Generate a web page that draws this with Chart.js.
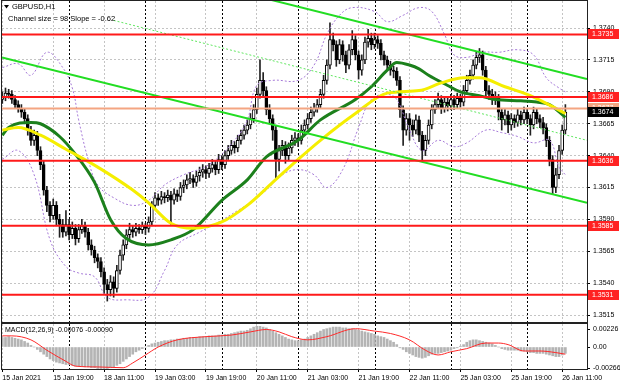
<!DOCTYPE html>
<html>
<head>
<meta charset="utf-8">
<script src="https://cdn.jsdelivr.net/npm/chart.js@4.4.0/dist/chart.umd.min.js"></script>
<style>
  body { margin: 0; background: #fff; }
  #wrap { position: relative; width: 620px; height: 388px; overflow: hidden; }
  canvas { position: absolute; left: 0; }
  #main { top: 0; }
  #macd { top: 323px; }
</style>
</head>
<body>
<div id="wrap">
  <canvas id="main" width="620" height="323"></canvas>
  <canvas id="macd" width="620" height="65"></canvas>
</div>
<script>
// ---- data (GBPUSD H1, one entry per bar, bar 0 = 15 Jan 03:00) ----
const opens = [
  1.3684,1.3686,1.3689,1.3688,1.3684,1.3680,1.3677,1.3674,1.3669,1.3660,
  1.3652,1.3656,1.3644,1.3633,1.3613,1.3601,1.3593,1.3601,1.3590,1.3586,
  1.3580,1.3586,1.3578,1.3583,1.3575,1.3582,1.3585,1.3580,1.3570,1.3566,
  1.3560,1.3557,1.3549,1.3539,1.3535,1.3541,1.3536,1.3550,1.3562,1.3570,
  1.3578,1.3582,1.3580,1.3583,1.3582,1.3585,1.3583,1.3588,1.3601,1.3607,
  1.3605,1.3608,1.3607,1.3609,1.3605,1.3610,1.3608,1.3615,1.3617,1.3621,
  1.3622,1.3619,1.3624,1.3627,1.3629,1.3626,1.3630,1.3633,1.3629,1.3637,
  1.3633,1.3640,1.3644,1.3648,1.3646,1.3652,1.3656,1.3660,1.3664,1.3669,
  1.3676,1.3688,1.3699,1.3691,1.3676,1.3669,1.3660,1.3637,1.3644,1.3648,
  1.3640,1.3646,1.3652,1.3654,1.3652,1.3660,1.3664,1.3669,1.3674,1.3677,
  1.3680,1.3688,1.3699,1.3711,1.3731,1.3727,1.3715,1.3727,1.3719,1.3711,
  1.3723,1.3731,1.3719,1.3707,1.3715,1.3729,1.3732,1.3727,1.3731,1.3728,
  1.3719,1.3715,1.3711,1.3707,1.3706,1.3699,1.3676,1.3660,1.3669,1.3664,
  1.3660,1.3668,1.3656,1.3644,1.3652,1.3664,1.3676,1.3680,1.3684,1.3677,
  1.3682,1.3679,1.3684,1.3680,1.3685,1.3682,1.3691,1.3699,1.3703,1.3711,
  1.3717,1.3719,1.3707,1.3691,1.3688,1.3684,1.3685,1.3674,1.3668,1.3672,
  1.3664,1.3669,1.3666,1.3672,1.3668,1.3674,1.3669,1.3664,1.3674,1.3669,
  1.3666,1.3662,1.3652,1.3637,1.3615,1.3625,1.3644,1.3660
];
const highs = [
  1.3690,1.3693,1.3692,1.3691,1.3687,1.3683,1.3680,1.3677,1.3672,1.3663,
  1.3660,1.3659,1.3647,1.3636,1.3616,1.3604,1.3606,1.3604,1.3594,1.3590,
  1.3597,1.3590,1.3588,1.3586,1.3586,1.3590,1.3588,1.3583,1.3574,1.3569,
  1.3563,1.3560,1.3552,1.3543,1.3546,1.3545,1.3554,1.3566,1.3574,1.3582,
  1.3587,1.3585,1.3587,1.3586,1.3588,1.3587,1.3592,1.3604,1.3611,1.3610,
  1.3612,1.3611,1.3613,1.3612,1.3614,1.3613,1.3619,1.3621,1.3625,1.3627,
  1.3625,1.3628,1.3631,1.3633,1.3632,1.3634,1.3637,1.3636,1.3641,1.3640,
  1.3644,1.3648,1.3652,1.3651,1.3656,1.3660,1.3664,1.3668,1.3673,1.3680,
  1.3693,1.3715,1.3705,1.3694,1.3680,1.3672,1.3663,1.3648,1.3652,1.3651,
  1.3650,1.3656,1.3658,1.3657,1.3664,1.3668,1.3673,1.3678,1.3681,1.3684,
  1.3692,1.3703,1.3715,1.3744,1.3736,1.3730,1.3731,1.3730,1.3722,1.3727,
  1.3738,1.3734,1.3722,1.3719,1.3733,1.3739,1.3736,1.3736,1.3734,1.3731,
  1.3722,1.3718,1.3714,1.3710,1.3709,1.3702,1.3679,1.3673,1.3673,1.3668,
  1.3672,1.3671,1.3659,1.3656,1.3668,1.3680,1.3684,1.3689,1.3687,1.3686,
  1.3685,1.3688,1.3687,1.3689,1.3688,1.3695,1.3703,1.3707,1.3715,1.3721,
  1.3724,1.3722,1.3710,1.3695,1.3692,1.3690,1.3688,1.3677,1.3676,1.3675,
  1.3673,1.3672,1.3677,1.3675,1.3678,1.3677,1.3672,1.3678,1.3677,1.3672,
  1.3670,1.3665,1.3655,1.3640,1.3630,1.3648,1.3664,1.3680
];
const lows = [
  1.3681,1.3683,1.3685,1.3681,1.3677,1.3674,1.3670,1.3665,1.3656,1.3648,
  1.3648,1.3640,1.3629,1.3609,1.3596,1.3588,1.3590,1.3585,1.3576,1.3576,
  1.3577,1.3574,1.3575,1.3570,1.3572,1.3579,1.3576,1.3566,1.3562,1.3556,
  1.3552,1.3545,1.3532,1.3526,1.3530,1.3529,1.3533,1.3547,1.3558,1.3567,
  1.3575,1.3576,1.3577,1.3579,1.3579,1.3578,1.3580,1.3585,1.3598,1.3601,
  1.3602,1.3603,1.3604,1.3586,1.3602,1.3604,1.3605,1.3611,1.3614,1.3618,
  1.3615,1.3616,1.3620,1.3623,1.3622,1.3623,1.3627,1.3625,1.3626,1.3629,
  1.3630,1.3637,1.3641,1.3642,1.3643,1.3649,1.3653,1.3657,1.3661,1.3666,
  1.3673,1.3685,1.3687,1.3672,1.3665,1.3652,1.3622,1.3628,1.3640,1.3634,
  1.3636,1.3642,1.3648,1.3647,1.3649,1.3657,1.3661,1.3666,1.3671,1.3674,
  1.3677,1.3685,1.3696,1.3708,1.3722,1.3710,1.3712,1.3714,1.3705,1.3708,
  1.3719,1.3715,1.3700,1.3703,1.3712,1.3725,1.3723,1.3724,1.3724,1.3715,
  1.3711,1.3707,1.3703,1.3701,1.3695,1.3670,1.3648,1.3656,1.3652,1.3655,
  1.3657,1.3651,1.3636,1.3640,1.3649,1.3661,1.3673,1.3677,1.3673,1.3674,
  1.3675,1.3676,1.3676,1.3677,1.3678,1.3679,1.3688,1.3696,1.3700,1.3708,
  1.3713,1.3703,1.3687,1.3684,1.3680,1.3680,1.3668,1.3660,1.3664,1.3658,
  1.3660,1.3662,1.3663,1.3664,1.3665,1.3665,1.3656,1.3661,1.3665,1.3662,
  1.3657,1.3647,1.3632,1.3610,1.3611,1.3622,1.3641,1.3657
];
const closes = [
  1.3686,1.3689,1.3688,1.3684,1.3680,1.3677,1.3674,1.3669,1.3660,1.3652,
  1.3656,1.3644,1.3633,1.3613,1.3601,1.3593,1.3601,1.3590,1.3586,1.3580,
  1.3586,1.3578,1.3583,1.3575,1.3582,1.3585,1.3580,1.3570,1.3566,1.3560,
  1.3557,1.3549,1.3539,1.3535,1.3541,1.3536,1.3550,1.3562,1.3570,1.3578,
  1.3582,1.3580,1.3583,1.3582,1.3585,1.3583,1.3588,1.3601,1.3607,1.3605,
  1.3608,1.3607,1.3609,1.3605,1.3610,1.3608,1.3615,1.3617,1.3621,1.3622,
  1.3619,1.3624,1.3627,1.3629,1.3626,1.3630,1.3633,1.3629,1.3637,1.3633,
  1.3640,1.3644,1.3648,1.3646,1.3652,1.3656,1.3660,1.3664,1.3669,1.3676,
  1.3688,1.3699,1.3691,1.3676,1.3669,1.3660,1.3637,1.3644,1.3648,1.3640,
  1.3646,1.3652,1.3654,1.3652,1.3660,1.3664,1.3669,1.3674,1.3677,1.3680,
  1.3688,1.3699,1.3711,1.3731,1.3727,1.3715,1.3727,1.3719,1.3711,1.3723,
  1.3731,1.3719,1.3707,1.3715,1.3729,1.3732,1.3727,1.3731,1.3728,1.3719,
  1.3715,1.3711,1.3707,1.3706,1.3699,1.3676,1.3660,1.3669,1.3664,1.3660,
  1.3668,1.3656,1.3644,1.3652,1.3664,1.3676,1.3680,1.3684,1.3677,1.3682,
  1.3679,1.3684,1.3680,1.3685,1.3682,1.3691,1.3699,1.3703,1.3711,1.3717,
  1.3719,1.3707,1.3691,1.3688,1.3684,1.3685,1.3674,1.3668,1.3672,1.3664,
  1.3669,1.3666,1.3672,1.3668,1.3674,1.3669,1.3664,1.3674,1.3669,1.3666,
  1.3662,1.3652,1.3637,1.3615,1.3625,1.3644,1.3660,1.3674
];

// moving averages, read at a few bars along each curve
const fastBars   = [0, 2, 9, 12, 18, 23, 29, 34, 39, 46, 53, 60, 69, 77, 83, 93, 100, 111, 116, 121, 124, 128, 131, 134, 140, 144, 150, 155, 163, 168, 172, 177];
const fastValues = [1.3656,1.3662,1.3666,1.3665,1.3655,1.3641,1.3619,1.3590,1.3575,1.3570,1.3574,1.3582,1.3605,1.3621,1.3639,1.3652,1.3668,1.3684,1.3694,1.3707,1.3713,1.3711,1.3708,1.3703,1.3695,1.3690,1.3687,1.3684,1.3683,1.3682,1.3680,1.3670];
const slowBars   = [0, 5, 12, 20, 30, 41, 46, 53, 60, 69, 77, 85, 93, 100, 111, 121, 131, 138, 145, 150, 158, 165, 171, 177];
const slowValues = [1.3660,1.3662,1.3656,1.3645,1.3631,1.3613,1.3603,1.3587,1.3583,1.3588,1.3601,1.3619,1.3637,1.3652,1.3673,1.3689,1.3691,1.3697,1.3701,1.3701,1.3694,1.3688,1.3681,1.3673];

// envelope bands (purple dotted)
const upperBars   = [0, 5, 9, 14, 19, 22, 24, 27, 30, 35, 41, 46, 51, 57, 65, 73, 77, 80, 85, 93, 98, 102, 106, 110, 117, 121, 126, 131, 135, 139, 142, 146, 151, 156, 162, 167, 171, 175, 177];
const upperValues = [1.3709,1.3712,1.3703,1.3721,1.3709,1.3693,1.3668,1.3637,1.3617,1.3607,1.3601,1.3605,1.3617,1.3625,1.3633,1.3652,1.3668,1.3695,1.3699,1.3699,1.3711,1.3735,1.3750,1.3756,1.3753,1.3745,1.3750,1.3756,1.3753,1.3735,1.3719,1.3717,1.3721,1.3721,1.3723,1.3719,1.3701,1.3693,1.3690];
const lowerBars   = [0, 5, 10, 15, 20, 24, 29, 33, 39, 46, 51, 55, 62, 68, 74, 79, 83, 88, 93, 98, 102, 107, 112, 116, 121, 124, 128, 132, 137, 142, 146, 152, 157, 162, 167, 172, 175, 177];
const lowerValues = [1.3637,1.3644,1.3625,1.3574,1.3553,1.3548,1.3545,1.3529,1.3527,1.3529,1.3550,1.3570,1.3580,1.3588,1.3597,1.3605,1.3613,1.3625,1.3629,1.3625,1.3615,1.3629,1.3662,1.3684,1.3688,1.3684,1.3660,1.3644,1.3652,1.3647,1.3650,1.3660,1.3658,1.3655,1.3650,1.3652,1.3631,1.3625];

// regression channel (bar, price at both ends)
const channelUpper = [[35, 1.3793], [183.8, 1.3700]];
const channelMid   = [[35, 1.3746], [183.8, 1.3652]];
const channelLower = [[-0.1, 1.3717], [183.8, 1.3603]];

// horizontal levels
const levels = [1.3735, 1.3686, 1.3636, 1.3585, 1.3531];
const bidLine = 1.3677;
const bidPrice = 1.3674;

// MACD(12,26,9)
const macdMain = [
  0.0012,0.0012,0.0013,0.0012,0.0011,0.0010,0.0009,0.0007,0.0005,0.0002,
  0.0000,-0.0003,-0.0006,-0.0009,-0.0012,-0.0015,-0.0017,-0.0019,-0.0020,-0.0021,
  -0.0022,-0.0022,-0.0023,-0.0024,-0.0024,-0.0024,-0.0025,-0.0025,-0.0026,-0.0026,
  -0.0027,-0.0027,-0.0027,-0.0027,-0.0026,-0.0025,-0.0023,-0.0021,-0.0018,-0.0015,
  -0.0012,-0.0009,-0.0006,-0.0004,-0.0002,0.0000,0.0002,0.0004,0.0005,0.0006,
  0.0007,0.0008,0.0008,0.0009,0.0009,0.0010,0.0010,0.0011,0.0011,0.0012,
  0.0012,0.0012,0.0013,0.0013,0.0013,0.0014,0.0014,0.0014,0.0015,0.0015,
  0.0016,0.0016,0.0017,0.0018,0.0019,0.0020,0.0020,0.0021,0.0023,0.0025,
  0.0026,0.0026,0.0025,0.0024,0.0022,0.0020,0.0018,0.0016,0.0014,0.0012,
  0.0010,0.0009,0.0008,0.0008,0.0009,0.0010,0.0012,0.0014,0.0016,0.0018,
  0.0020,0.0022,0.0023,0.0024,0.0025,0.0025,0.0025,0.0024,0.0024,0.0023,
  0.0023,0.0022,0.0021,0.0020,0.0019,0.0018,0.0017,0.0016,0.0014,0.0013,
  0.0012,0.0010,0.0008,0.0006,0.0003,-0.0001,-0.0003,-0.0006,-0.0008,-0.0010,
  -0.0012,-0.0013,-0.0014,-0.0013,-0.0011,-0.0009,-0.0008,-0.0008,-0.0007,-0.0006,
  -0.0005,-0.0004,-0.0002,-0.0001,0.0001,0.0003,0.0006,0.0008,0.0009,0.0009,
  0.0008,0.0007,0.0006,0.0005,0.0004,0.0002,0.0000,-0.0002,-0.0003,-0.0004,
  -0.0004,-0.0004,-0.0004,-0.0005,-0.0005,-0.0006,-0.0007,-0.0007,-0.0008,-0.0008,
  -0.0008,-0.0009,-0.0010,-0.0011,-0.0012,-0.0012,-0.0010,-0.0008
];
const signalBars   = [0, 3, 9, 14, 20, 23, 30, 38, 41, 45, 49, 55, 64, 72, 78, 83, 87, 91, 96, 102, 111, 117, 122, 128, 133, 137, 141, 146, 152, 156, 159, 164, 169, 174, 177];
const signalValues = [0.0014,0.0014,0.0009,-0.0004,-0.0018,-0.0024,-0.0025,-0.0026,-0.0020,-0.0010,0.0000,0.0009,0.0013,0.0015,0.0019,0.0022,0.0019,0.0013,0.0009,0.0013,0.0023,0.0020,0.0017,0.0009,-0.0004,-0.0010,-0.0006,-0.0002,0.0005,0.0005,0.0003,-0.0005,-0.0005,-0.0007,-0.0009];

// axes
const priceTicks = [1.3740, 1.3715, 1.3690, 1.3665, 1.3640, 1.3615, 1.3590, 1.3565, 1.3540, 1.3515];
const macdTicks = [0.00226, 0, -0.00266];
const timeLabels = ['15 Jan 2021','15 Jan 19:00','18 Jan 11:00','19 Jan 03:00','19 Jan 19:00','20 Jan 11:00',
                    '21 Jan 03:00','21 Jan 19:00','22 Jan 11:00','25 Jan 03:00','25 Jan 19:00','26 Jan 11:00'];
const labelBars = [0, 16, 32, 48, 64, 80, 96, 112, 128, 144, 160, 176];
const daySeparators = [21, 45, 69, 93, 117, 141, 165];

const X_MIN = -0.1, X_MAX = 183.8;
const FONT = "'Liberation Sans', Arial, sans-serif";

Chart.defaults.font.family = FONT;
Chart.defaults.font.size = 7;
Chart.defaults.color = '#000';

function pts(bars, vals) { return bars.map((b, i) => ({x: b, y: vals[i]})); }
function seg(p) { return p.map(q => ({x: q[0], y: q[1]})); }
function hline(v) { return [{x: X_MIN, y: v}, {x: X_MAX, y: v}]; }

// dotted day separators + frame round the pane
const panePlugin = {
  id: 'pane',
  beforeDatasetsDraw(chart) {
    const {ctx, chartArea: a, scales: {x}} = chart;
    ctx.save();
    ctx.strokeStyle = '#000';
    ctx.lineWidth = 1;
    ctx.setLineDash([2, 2]);
    daySeparators.forEach(b => {
      const px = Math.round(x.getPixelForValue(b)) + 0.5;
      ctx.beginPath();
      ctx.moveTo(px, a.top);
      ctx.lineTo(px, a.bottom);
      ctx.stroke();
    });
    ctx.restore();
  },
  afterDraw(chart) {
    const {ctx, chartArea: a} = chart;
    ctx.save();
    ctx.strokeStyle = '#222';
    ctx.lineWidth = 1;
    ctx.strokeRect(a.left - 0.5, a.top - 0.5, a.right - a.left + 1, a.bottom - a.top + 1);
    ctx.restore();
  }
};

// title texts and price boxes on the right axis
const mainTextPlugin = {
  id: 'mainText',
  afterDraw(chart) {
    const {ctx, scales: {y}} = chart;
    ctx.save();
    ctx.fillStyle = '#000';
    ctx.beginPath();
    ctx.moveTo(4, 5); ctx.lineTo(9, 5); ctx.lineTo(6.5, 8.5); ctx.closePath();
    ctx.fill();
    ctx.font = '7.5px ' + FONT;
    ctx.textBaseline = 'middle';
    ctx.fillText('GBPUSD,H1', 12, 7);
    ctx.fillText('Channel size = 98 Slope = -0.62', 8, 18.5);

    const box = (v, fill, text) => {
      const py = Math.round(y.getPixelForValue(v));
      ctx.fillStyle = fill;
      ctx.fillRect(588, py - 5, 31, 10);
      ctx.fillStyle = '#fff';
      ctx.font = '7px ' + FONT;
      ctx.fillText(text, 592, py + 0.5);
    };
    levels.forEach(v => box(v, '#f22', v.toFixed(4)));
    box(bidLine, '#f4a582', bidLine.toFixed(4));
    box(bidPrice, '#000', bidPrice.toFixed(4));
    ctx.restore();
  }
};

const macdTextPlugin = {
  id: 'macdText',
  afterDraw(chart) {
    const {ctx} = chart;
    ctx.save();
    ctx.fillStyle = '#000';
    ctx.font = '7px ' + FONT;
    ctx.textBaseline = 'middle';
    ctx.fillText('MACD(12,26,9) -0.00076 -0.00090', 5, 7);
    ctx.restore();
  }
};

const gridGray = '#c4c4c4';

// ---- main price pane ----
const bodyColors = closes.map((c, i) => c >= opens[i] ? '#ffffff' : '#000000');

const lineDs = (data, color, width, order, extra) => Object.assign({
  type: 'line', data, borderColor: color, borderWidth: width,
  pointRadius: 0, fill: false, order
}, extra || {});

new Chart(document.getElementById('main'), {
  type: 'bar',
  data: {
    datasets: [
      ...levels.map(v => lineDs(hline(v), '#ff1a1a', 2, 1)),
      lineDs(hline(bidLine), '#f4a582', 2, 1),
      lineDs(seg(channelUpper), '#22dd22', 2, 2),
      lineDs(seg(channelLower), '#22dd22', 2, 2),
      lineDs(seg(channelMid), '#5fe65f', 1, 2, {borderDash: [2, 2]}),
      lineDs(pts(slowBars, slowValues), '#f5ee00', 3, 3, {cubicInterpolationMode: 'monotone'}),
      lineDs(pts(fastBars, fastValues), '#1c801c', 3, 3, {cubicInterpolationMode: 'monotone'}),
      lineDs(pts(upperBars, upperValues), '#a67ad8', 1, 3, {borderDash: [2, 2], tension: 0.4}),
      lineDs(pts(lowerBars, lowerValues), '#a67ad8', 1, 3, {borderDash: [2, 2], tension: 0.4}),
      {
        type: 'bar',
        data: closes.map((c, i) => ({x: i, y: [opens[i], c]})),
        backgroundColor: bodyColors,
        borderColor: '#000',
        borderWidth: 1,
        borderSkipped: false,
        barThickness: 3,
        grouped: false,
        order: 4
      },
      {
        type: 'bar',
        data: closes.map((c, i) => ({x: i, y: [lows[i], highs[i]]})),
        backgroundColor: '#222',
        borderWidth: 0,
        barThickness: 1,
        grouped: false,
        order: 5
      }
    ]
  },
  options: {
    responsive: false,
    animation: false,
    devicePixelRatio: 1,
    layout: {padding: {left: 2, top: 1, right: 0, bottom: 1}},
    plugins: {legend: {display: false}, tooltip: {enabled: false}},
    scales: {
      x: {
        type: 'linear', min: X_MIN, max: X_MAX, offset: false,
        grid: {color: gridGray, drawTicks: false, offset: false},
        border: {display: false, dash: [2, 2]},
        ticks: {display: false},
        afterBuildTicks: s => { s.ticks = labelBars.map(v => ({value: v})); },
        afterFit: s => { s.height = 0; s.paddingLeft = 0; s.paddingRight = 0; }
      },
      y: {
        position: 'right', min: 1.35096, max: 1.37612,
        grid: {color: gridGray, tickColor: '#000', tickLength: 3, tickBorderDash: []},
        border: {display: true, color: '#222', dash: [2, 2]},
        ticks: {padding: 3, autoSkip: false, callback: v => v.toFixed(4)},
        afterBuildTicks: s => { s.ticks = priceTicks.map(v => ({value: v})); },
        afterFit: s => { s.width = 33; s.paddingTop = 0; s.paddingBottom = 0; }
      }
    }
  },
  plugins: [panePlugin, mainTextPlugin]
});

// ---- MACD pane ----
new Chart(document.getElementById('macd'), {
  type: 'bar',
  data: {
    datasets: [
      lineDs(pts(signalBars, signalValues), '#ff2a2a', 1, 1, {cubicInterpolationMode: 'monotone'}),
      {
        type: 'bar',
        data: macdMain.map((v, i) => ({x: i, y: v})),
        backgroundColor: '#b4b4b4',
        borderWidth: 0,
        barThickness: 2,
        grouped: false,
        order: 2
      }
    ]
  },
  options: {
    responsive: false,
    animation: false,
    devicePixelRatio: 1,
    layout: {padding: {left: 2, top: 1, right: 0, bottom: 0}},
    plugins: {legend: {display: false}, tooltip: {enabled: false}},
    scales: {
      x: {
        type: 'linear', min: X_MIN, max: X_MAX, offset: false,
        grid: {color: gridGray, offset: false, tickColor: '#000', tickLength: 3, tickBorderDash: []},
        border: {display: false, dash: [2, 2]},
        ticks: {
          align: 'start', autoSkip: false, maxRotation: 0, minRotation: 0, padding: 2,
          callback: v => { const k = labelBars.indexOf(v); return k >= 0 ? timeLabels[k] : ''; }
        },
        afterBuildTicks: s => { s.ticks = labelBars.map(v => ({value: v})); },
        afterFit: s => { s.height = 19; s.paddingLeft = 0; s.paddingRight = 0; }
      },
      y: {
        position: 'right', min: -0.00276, max: 0.00289,
        grid: {drawOnChartArea: false, tickColor: '#000', tickLength: 3},
        border: {display: true, color: '#222'},
        ticks: {padding: 3, autoSkip: false, callback: v => v === 0 ? '0.00' : v.toFixed(5)},
        afterBuildTicks: s => { s.ticks = macdTicks.map(v => ({value: v})); },
        afterFit: s => { s.width = 33; s.paddingTop = 0; s.paddingBottom = 0; }
      }
    }
  },
  plugins: [panePlugin, macdTextPlugin]
});
</script>
</body>
</html>
